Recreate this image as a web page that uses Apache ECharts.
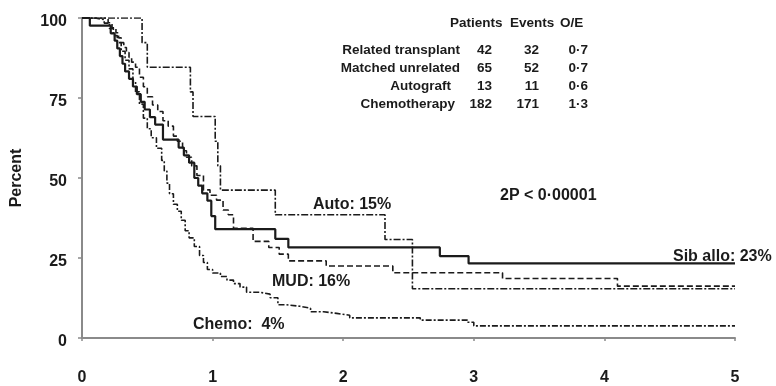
<!DOCTYPE html>
<html>
<head>
<meta charset="utf-8">
<script src="https://cdn.jsdelivr.net/npm/echarts@6/dist/echarts.min.js"></script>
<style>html,body{margin:0;padding:0;background:#fff;}#c{width:776px;height:386px;}</style>
</head>
<body>
<div id="c"></div>
<script>
// ---- Data (years, percent) ----
var xTicks = [0, 1, 2, 3, 4, 5];
var yTicks = [0, 25, 50, 75, 100];

var sibT = [0,0.06,0.22,0.25,0.27,0.29,0.31,0.33,0.36,0.39,0.42,0.45,0.48,0.52,0.56,0.62,0.74,0.78,0.82,0.86,0.89,0.92,0.96,0.99,1.02,1.48,1.58,2.74,2.96,5];
var sibS = [100,97.6,95.2,92.9,90.5,88.1,85.7,83.3,81.0,78.6,76.2,73.8,71.4,69.0,66.7,62.0,59.5,57.1,54.8,50.0,47.6,45.2,42.9,38.1,34.0,31.0,28.3,25.6,23.3,23.3];

var mudT = [0,0.20,0.23,0.26,0.28,0.30,0.32,0.34,0.36,0.38,0.41,0.44,0.47,0.50,0.54,0.58,0.62,0.66,0.70,0.73,0.77,0.80,0.84,0.88,0.93,0.98,1.03,1.08,1.12,1.16,1.31,1.43,1.51,1.58,1.87,2.38,3.22,4.10,5];
var mudS = [100,98.5,96.9,95.4,93.8,92.3,90.8,89.2,87.7,86.2,84.6,81.5,78.5,75.4,72.8,70.8,67.9,66.2,63.1,61.5,58.5,56.5,53.8,50.8,46.3,44.6,43.1,40.0,38.5,34.3,30.2,28.3,26.2,24.1,22.5,20.4,18.6,16.2,16.2];

var autoT = [0,0.46,0.50,0.83,0.85,1.02,1.04,1.06,1.48,2.32,2.53,5];
var autoS = [100,92.3,84.6,76.9,69.2,61.5,53.8,46.2,38.5,30.8,15.4,15.4];

var chemoT = [0,0.10,0.17,0.21,0.24,0.27,0.30,0.33,0.36,0.39,0.41,0.44,0.47,0.50,0.53,0.57,0.61,0.63,0.65,0.67,0.70,0.73,0.76,0.79,0.82,0.86,0.90,0.93,0.96,1.00,1.06,1.11,1.16,1.21,1.26,1.36,1.44,1.50,1.56,1.67,1.75,1.85,1.95,2.05,2.59,2.95,3.00,5];
var chemoS = [100,99.5,98.4,96.7,94.5,92.3,89.6,86.8,84.1,80.2,76.9,73.1,68.7,65.4,62.6,59.3,55.5,52.2,48.4,45.1,41.8,39.6,36.8,33.5,31.3,28.6,25.8,23.6,21.4,20.3,19.2,18.1,17.0,15.9,14.3,13.7,12.6,10.4,9.9,9.3,8.2,7.7,7.1,6.3,5.6,4.9,3.8,3.8];

// ---- Table ----
var tableHeader = ["Patients", "Events", "O/E"];
var groupNames = ["Related transplant", "Matched unrelated", "Autograft", "Chemotherapy"];
var patients = ["42", "65", "13", "182"];
var events = ["32", "52", "11", "171"];
var oe = ["0·7", "0·7", "0·6", "1·3"];

// ---- Curve labels ----
var curveLabels = ["Sib allo: 23%", "MUD: 16%", "Auto: 15%", "Chemo:  4%"];
var pText = "2P < 0·00001";
var yName = "Percent";

function pairs(t, s) { return t.map(function (v, i) { return [v, s[i]]; }); }

var FONT = "'Liberation Sans', Arial, sans-serif";
var INK = "#1b1b1b";
var AXIS = "#8a8a8a";

var chart = echarts.init(document.getElementById('c'));

function txt(text, x, y, align, size, extra) {
  var o = {
    type: 'text', x: x, y: y, silent: true,
    style: { text: text, fill: INK, font: 'bold ' + size + 'px ' + FONT, textAlign: align, textVerticalAlign: 'middle' }
  };
  if (extra) for (var k in extra) o[k] = extra[k];
  return o;
}

var graphics = [];
graphics.push(txt(tableHeader[0], 450, 23, 'left', 13.5));
graphics.push(txt(tableHeader[1], 510, 23, 'left', 13.5));
graphics.push(txt(tableHeader[2], 560, 23, 'left', 13.5));
var rowY = [50, 68, 86, 104];
var nameRight = [460, 460, 451, 455];
for (var i = 0; i < groupNames.length; i++) {
  graphics.push(txt(groupNames[i], nameRight[i], rowY[i], 'right', 13.5));
  graphics.push(txt(patients[i], 492, rowY[i], 'right', 13.5));
  graphics.push(txt(events[i], 539, rowY[i], 'right', 13.5));
  graphics.push(txt(oe[i], 588, rowY[i], 'right', 13.5));
}
graphics.push(txt(pText, 500, 196, 'left', 16));
graphics.push(txt(curveLabels[0], 673, 257, 'left', 16));
graphics.push(txt(curveLabels[1], 272, 282, 'left', 16));
graphics.push(txt(curveLabels[2], 313, 205, 'left', 16));
graphics.push(txt(curveLabels[3], 193, 325, 'left', 16));
graphics.push(txt(yName, 17, 178, 'center', 16, { rotation: Math.PI / 2 }));

function lineSeries(name, t, s, type, width) {
  return {
    name: name, type: 'line', step: 'end', symbol: 'none', silent: true,
    data: pairs(t, s),
    lineStyle: { color: INK, width: width, type: type },
    animation: false
  };
}

chart.setOption({
  animation: false,
  grid: { left: 82, right: 41, top: 18, bottom: 43 },
  xAxis: {
    type: 'value', min: 0, max: 5, interval: 1,
    axisLine: { lineStyle: { color: AXIS, width: 2 } },
    axisTick: { show: true, length: 3, lineStyle: { color: AXIS, width: 1.5 } },
    splitLine: { show: false },
    axisLabel: { color: INK, fontWeight: 'bold', fontSize: 16, fontFamily: FONT, margin: 32,
      formatter: function (v) { return xTicks.indexOf(v) >= 0 ? String(v) : ''; } }
  },
  yAxis: {
    type: 'value', min: 0, max: 100, interval: 25,
    axisLine: { show: true, lineStyle: { color: AXIS, width: 2 } },
    axisTick: { show: true, length: 4, lineStyle: { color: AXIS, width: 1.5 } },
    splitLine: { show: false },
    axisLabel: { color: INK, fontWeight: 'bold', fontSize: 16, fontFamily: FONT, margin: 15,
      verticalAlign: 'top', lineHeight: 8,
      formatter: function (v) { return yTicks.indexOf(v) >= 0 ? String(v) : ''; } }
  },
  series: [
    lineSeries('Sib allo', sibT, sibS, 'solid', 2.2),
    lineSeries('MUD', mudT, mudS, [6, 3], 1.6),
    lineSeries('Auto', autoT, autoS, [7, 2, 2, 2], 1.6),
    lineSeries('Chemo', chemoT, chemoS, [6, 2, 2, 2], 1.6)
  ],
  graphic: graphics
});
</script>
</body>
</html>
